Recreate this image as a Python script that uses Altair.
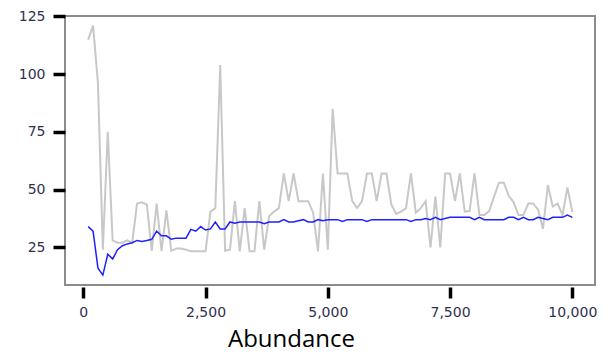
import altair as alt
import pandas as pd

abundance = list(range(100, 10001, 100))

observed = [
    115, 121, 96, 24, 75, 28, 27, 27, 28, 27,
    44, 44.5, 43.5, 23.5, 44, 23.5, 41, 23.5, 24.5, 24.5,
    24, 23.3, 23.3, 23.3, 23.3, 40.5, 42, 104, 23.5, 24,
    45, 23.3, 42, 23.3, 23.3, 45, 24, 38.5, 40.5, 42,
    57, 45, 57, 45, 45, 45, 40, 23.3, 57, 24,
    85, 57, 57, 57, 45, 42, 45, 57, 57, 45,
    57, 57, 43.5, 39.5, 40.5, 42, 57, 40, 42, 45,
    25, 47, 25, 57, 57, 45, 57, 40.5, 40.7, 57,
    39, 39, 40.7, 47, 53, 53, 47.3, 44.5, 39, 39,
    44, 44, 41.3, 33, 52, 42.7, 44, 39, 51, 40.3,
]

smoothed = [
    34, 32, 16, 13, 22, 20, 24, 25.7, 26.5, 27,
    28, 27.5, 28, 28.5, 32, 30, 30, 28.5, 29, 29,
    29, 32.8, 32, 34, 32.5, 33, 36, 33, 33, 36,
    35.5, 36, 36, 36, 36, 36, 35.2, 36, 36, 36,
    37, 36, 36, 36.5, 37, 36, 36, 37, 36.5, 37,
    37, 37, 36.2, 37, 37, 37, 37, 36.2, 37, 37,
    37, 37, 37, 37, 37, 37, 36.2, 37, 37, 37.5,
    37, 38, 37, 37.5, 38, 38, 38, 38, 38, 37,
    38, 37, 37, 37, 37, 37, 38, 38, 37, 38,
    37, 37, 38, 37.5, 37, 38, 38, 38, 39, 38,
]

x_ticks = [0, 2500, 5000, 7500, 10000]
y_ticks = [25, 50, 75, 100, 125]

df = pd.DataFrame({"abundance": abundance, "observed": observed, "smoothed": smoothed})

x_enc = alt.X(
    "abundance:Q",
    scale=alt.Scale(domain=[-374, 10464], nice=False, zero=False),
    axis=alt.Axis(
        values=x_ticks,
        format=",.0f",
        title="Abundance",
        offset=2,
        tickSize=11,
        labelPadding=7,
        titleX=226,
        titleY=59,
        titleAlign="center",
        titleBaseline="alphabetic",
    ),
)

y_scale = alt.Scale(domain=[8.7, 125.2], nice=False, zero=False)
y_axis = alt.Axis(values=y_ticks, tickSize=12, labelPadding=8)

base = alt.Chart(df)

gray = base.mark_line(color="#c8c8c8", strokeWidth=2, clip=True).encode(
    x=x_enc,
    y=alt.Y("observed:Q", scale=y_scale, axis=y_axis, title=None),
)

blue = base.mark_line(color="#1f1fff", strokeWidth=1.5, clip=True).encode(
    x=x_enc,
    y=alt.Y("smoothed:Q", scale=y_scale, axis=y_axis, title=None),
)

chart = (
    alt.layer(gray, blue)
    .properties(
        width=530,
        height=269,
        padding={"left": 57, "top": 8, "right": 10, "bottom": 70},
        autosize=alt.AutoSizeParams(type="none"),
        background="white",
    )
    .configure_view(stroke="#8c8c8c", strokeWidth=2)
    .configure_axis(
        domain=False,
        grid=False,
        ticks=True,
        tickColor="black",
        tickWidth=3.5,
        labelFont="DejaVu Sans",
        labelFontSize=14,
        labelColor="#303050",
        titleFont="Open Sans",
        titleFontSize=24,
        titleFontWeight="normal",
        titleColor="black",
    )
)

chart.save("out.html", embed_options={"renderer": "svg", "actions": False})
